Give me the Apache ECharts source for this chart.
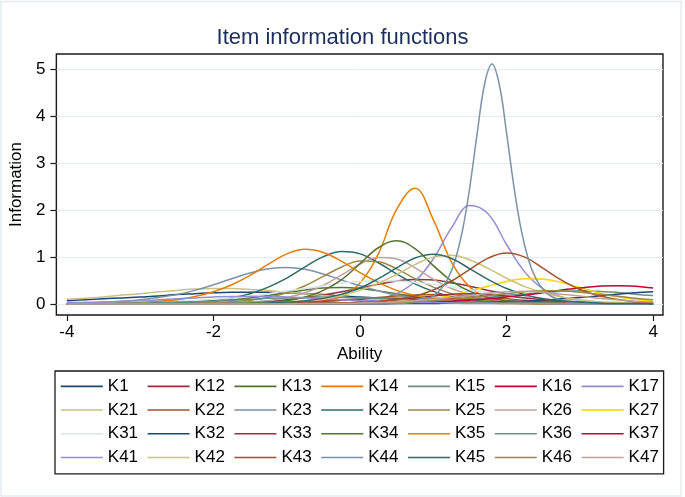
<!DOCTYPE html>
<html><head><meta charset="utf-8">
<script src="https://cdn.jsdelivr.net/npm/echarts@6/dist/echarts.min.js"></script>
<style>html,body{margin:0;padding:0;background:#fff}#c{width:685px;height:497px}</style>
</head><body><div id="c"></div>
<script>
// ---- data ----
const ability = [-4,-3.75,-3.5,-3.25,-3,-2.75,-2.5,-2.25,-2,-1.75,-1.5,-1.25,-1,-0.75,-0.5,-0.25,0,0.25,0.5,0.75,1,1.25,1.5,1.75,2,2.25,2.5,2.75,3,3.25,3.5,3.75,4];
const abilityK44 = [-4,-3,-2,-1,0,0.25,0.5,0.7,0.9,1.0,1.1,1.2,1.3,1.4,1.5,1.6,1.7,1.8,1.9,2.0,2.1,2.2,2.3,2.4,2.5,2.6,2.8,3.0,3.25,3.5,4];

const K1  = [0.07,0.09,0.11,0.13,0.15,0.17,0.20,0.22,0.24,0.25,0.25,0.25,0.24,0.22,0.20,0.17,0.15,0.13,0.11,0.09,0.07,0.06,0.05,0.04,0.03,0.02,0.02,0.01,0.01,0.01,0.01,0.01,0.00];
const K12 = [0,0,0,0,0,0.01,0.01,0.01,0.02,0.03,0.04,0.06,0.09,0.14,0.19,0.26,0.34,0.42,0.49,0.52,0.51,0.45,0.38,0.29,0.22,0.16,0.11,0.07,0.05,0.03,0.02,0.02,0.01];
const K13 = [0,0,0,0.01,0.01,0.02,0.02,0.04,0.06,0.09,0.13,0.18,0.24,0.30,0.34,0.35,0.33,0.28,0.22,0.16,0.11,0.07,0.05,0.03,0.02,0.01,0.01,0.01,0,0,0,0,0];
const K14 = [0,0,0,0,0,0,0,0,0,0,0,0,0.01,0.02,0.06,0.17,0.45,1.07,2.02,2.47,1.80,0.89,0.36,0.13,0.05,0.02,0.01,0,0,0,0,0,0];
const K15 = [0,0,0,0,0,0,0,0,0,0,0,0,0,0.01,0.01,0.01,0.02,0.02,0.03,0.04,0.06,0.08,0.11,0.14,0.18,0.21,0.25,0.27,0.28,0.27,0.25,0.21,0.18];
const K16 = [0,0,0,0,0,0,0.01,0.01,0.01,0.02,0.02,0.03,0.04,0.05,0.06,0.08,0.09,0.11,0.12,0.12,0.12,0.11,0.10,0.08,0.07,0.05,0.04,0.03,0.02,0.02,0.01,0.01,0.01];
const K17 = [0,0,0,0,0,0,0,0,0,0,0,0,0,0,0.01,0.02,0.04,0.10,0.22,0.48,0.96,1.63,2.10,1.92,1.27,0.68,0.32,0.15,0.06,0.03,0.01,0,0];
const K21 = [0.10,0.12,0.15,0.19,0.22,0.26,0.29,0.32,0.33,0.33,0.31,0.29,0.25,0.22,0.18,0.15,0.12,0.09,0.07,0.05,0.04,0.03,0.02,0.02,0.01,0.01,0.01,0.01,0,0,0,0,0];
const K22 = [0,0,0,0,0,0,0,0,0.01,0.01,0.01,0.02,0.03,0.04,0.06,0.08,0.11,0.14,0.17,0.19,0.20,0.19,0.17,0.14,0.11,0.08,0.06,0.04,0.03,0.02,0.01,0.01,0.01];
const K23 = [0.02,0.03,0.04,0.06,0.09,0.14,0.20,0.29,0.41,0.54,0.66,0.75,0.78,0.74,0.64,0.51,0.39,0.28,0.19,0.13,0.09,0.06,0.04,0.02,0.02,0.01,0.01,0,0,0,0,0,0];
const K24 = [0,0,0,0.01,0.01,0.02,0.03,0.05,0.08,0.13,0.22,0.36,0.55,0.79,1.01,1.12,1.07,0.88,0.64,0.43,0.27,0.16,0.10,0.06,0.03,0.02,0.01,0.01,0,0,0,0,0];
const K25 = [0,0,0,0,0,0,0.01,0.01,0.03,0.05,0.08,0.14,0.24,0.39,0.59,0.79,0.92,0.90,0.75,0.54,0.36,0.22,0.13,0.07,0.04,0.02,0.01,0.01,0,0,0,0,0];
const K26 = [0,0,0,0,0,0,0,0.01,0.01,0.02,0.04,0.07,0.14,0.24,0.40,0.62,0.85,0.99,0.96,0.77,0.53,0.33,0.20,0.11,0.06,0.03,0.02,0.01,0,0,0,0,0];
const K27 = [0,0,0,0,0,0,0,0,0,0,0,0,0,0,0.01,0.01,0.02,0.03,0.04,0.07,0.12,0.18,0.28,0.38,0.48,0.54,0.53,0.46,0.35,0.24,0.16,0.10,0.06];
const K31 = [0.01,0.01,0.02,0.02,0.03,0.04,0.06,0.08,0.10,0.13,0.17,0.22,0.28,0.33,0.39,0.45,0.48,0.50,0.49,0.46,0.42,0.36,0.30,0.24,0.19,0.15,0.11,0.09,0.06,0.05,0.04,0.03,0.02];
const K32 = [0,0,0,0,0,0,0,0,0,0,0,0,0,0,0,0,0,0,0.01,0.01,0.01,0.02,0.02,0.03,0.05,0.06,0.08,0.11,0.14,0.17,0.21,0.24,0.26];
const K33 = [0,0,0,0,0,0,0,0,0,0,0,0,0.01,0.01,0.02,0.02,0.04,0.06,0.09,0.13,0.17,0.21,0.22,0.21,0.17,0.13,0.09,0.06,0.04,0.02,0.02,0.01,0.01];
const K34 = [0,0,0,0,0,0,0,0,0,0.01,0.02,0.04,0.07,0.15,0.29,0.52,0.86,1.20,1.35,1.18,0.82,0.49,0.27,0.14,0.07,0.04,0.02,0.01,0,0,0,0,0];
const K35 = [0,0.01,0.01,0.02,0.03,0.06,0.09,0.16,0.26,0.41,0.61,0.85,1.07,1.17,1.10,0.91,0.67,0.46,0.29,0.18,0.11,0.06,0.04,0.02,0.01,0.01,0,0,0,0,0,0,0];
const K36 = [0.01,0.01,0.01,0.02,0.02,0.03,0.04,0.05,0.06,0.08,0.10,0.12,0.13,0.14,0.15,0.14,0.13,0.12,0.10,0.08,0.06,0.05,0.04,0.03,0.02,0.02,0.01,0.01,0.01,0.01,0,0,0];
const K37 = [0,0,0,0,0,0,0,0,0,0,0,0,0,0,0.01,0.01,0.01,0.01,0.02,0.03,0.04,0.06,0.08,0.11,0.15,0.19,0.24,0.30,0.34,0.38,0.39,0.38,0.34];
const K41 = [0.03,0.03,0.04,0.06,0.07,0.09,0.11,0.13,0.15,0.16,0.16,0.16,0.15,0.13,0.11,0.09,0.07,0.06,0.04,0.03,0.03,0.02,0.01,0.01,0.01,0.01,0.01,0,0,0,0,0,0];
const K42 = [0,0,0,0,0,0,0,0,0,0.01,0.01,0.02,0.04,0.07,0.11,0.18,0.29,0.44,0.63,0.84,1.00,1.04,0.94,0.76,0.55,0.37,0.24,0.15,0.09,0.05,0.03,0.02,0.01];
const K43 = [0,0,0,0,0,0,0,0,0,0,0,0,0,0,0.01,0.02,0.03,0.05,0.10,0.17,0.30,0.49,0.74,0.98,1.09,1.00,0.76,0.51,0.31,0.18,0.10,0.05,0.03];
const K44 = [0,0,0,0,0,0,0.01,0.03,0.09,0.17,0.31,0.54,0.94,1.58,2.51,3.65,4.69,5.12,4.69,3.65,2.51,1.58,0.94,0.54,0.31,0.17,0.05,0.02,0,0,0];
const K45 = [0,0,0,0,0,0,0,0,0,0.01,0.01,0.02,0.04,0.07,0.12,0.21,0.34,0.54,0.77,0.98,1.06,0.97,0.75,0.52,0.33,0.20,0.11,0.07,0.04,0.02,0.01,0.01,0];
const K46 = [0,0,0,0,0,0,0,0,0,0,0,0,0,0,0.01,0.01,0.01,0.02,0.03,0.05,0.07,0.10,0.13,0.18,0.22,0.26,0.28,0.28,0.25,0.21,0.17,0.12,0.09];
const K47 = [0,0,0,0,0,0,0,0,0,0,0,0,0,0.01,0.01,0.01,0.02,0.03,0.04,0.07,0.10,0.14,0.18,0.23,0.26,0.27,0.25,0.21,0.17,0.12,0.09,0.06,0.04];

const itemNames = ['K1','K12','K13','K14','K15','K16','K17','K21','K22','K23','K24','K25','K26','K27','K31','K32','K33','K34','K35','K36','K37','K41','K42','K43','K44','K45','K46','K47'];
const itemValues = [K1,K12,K13,K14,K15,K16,K17,K21,K22,K23,K24,K25,K26,K27,K31,K32,K33,K34,K35,K36,K37,K41,K42,K43,K44,K45,K46,K47];
const itemAbility = itemNames.map(n => n === 'K44' ? abilityK44 : ability);

const xTicks = [-4,-2,0,2,4];
const yTicks = [0,1,2,3,4,5];

// ---- styles ----
const palette = ['#1a476f','#90353b','#55752f','#e37e00','#6e8e84','#c10534','#938dd2','#cac27e','#a0522d','#7b92a8','#2d6d66','#9c8847','#bfa19c','#ffd200','#d9e6eb'];
const FONT = "'Liberation Sans', Helvetica, Arial, sans-serif";
const dark = '#1a1a1a';

const series = itemNames.map((name, i) => {
  const xs = itemAbility[i], ys = itemValues[i];
  const color = palette[i % palette.length];
  return {
    name, type: 'line',
    data: xs.map((x, j) => [x, ys[j]]),
    smooth: 0.4,
    symbol: 'none', showSymbol: false, clip: false,
    lineStyle: { width: 1.5, color }, itemStyle: { color },
    emphasis: { disabled: true }, silent: true, animation: false
  };
});

const chart = echarts.init(document.getElementById('c'), null, { renderer: 'canvas' });
chart.setOption({
  backgroundColor: '#fff',
  animation: false,
  textStyle: { fontFamily: FONT },
  title: {
    text: 'Item information functions', left: 'center', top: 22,
    textStyle: { fontSize: 22, fontWeight: 'normal', color: '#1c2f5c', fontFamily: FONT }
  },
  graphic: [{
    type: 'rect', silent: true, z: -1,
    shape: { x: 1, y: 1.5, width: 680, height: 494.5 },
    style: { fill: 'none', stroke: '#e3ecef', lineWidth: 1.5 }
  }],
  grid: {
    left: 49.3, right: 22, top: 54, bottom: 182,
    show: true, borderColor: dark, borderWidth: 1.4, backgroundColor: '#fff'
  },
  xAxis: {
    type: 'value', min: -4.144, max: 4.135,
    axisLine: { show: false, onZero: false },
    axisTick: { show: true, length: 6, customValues: xTicks, lineStyle: { color: dark, width: 1.2 } },
    axisLabel: { customValues: xTicks, margin: 9, fontSize: 17, color: '#000', fontFamily: FONT },
    splitLine: { show: false },
    name: 'Ability', nameLocation: 'middle', nameGap: 27,
    nameTextStyle: { fontSize: 17, color: '#000', fontFamily: FONT }
  },
  yAxis: {
    type: 'value', min: -0.235, max: 5.335,
    axisLine: { show: false, onZero: false },
    axisTick: { show: true, length: 6, customValues: yTicks, lineStyle: { color: dark, width: 1.2 } },
    axisLabel: { customValues: yTicks, margin: 11, fontSize: 17, color: '#000', fontFamily: FONT },
    splitLine: { show: true, lineStyle: { color: '#e3ecef', width: 1 } },
    name: 'Information', nameLocation: 'middle', nameGap: 28, nameRotate: 90,
    nameTextStyle: { fontSize: 17, color: '#000', fontFamily: FONT }
  },
  legend: {
    data: itemNames, orient: 'horizontal', left: 55, top: 371, width: 612,
    itemWidth: 42, itemHeight: 12, itemGap: 5,
    padding: [6, 1, 7, 5],
    backgroundColor: '#fff', borderColor: dark, borderWidth: 1.3, borderRadius: 0,
    selectedMode: false,
    itemStyle: { opacity: 0 },
    lineStyle: { width: 1.6 },
    textStyle: { fontSize: 17, color: '#000', width: 34, lineHeight: 18.7, fontFamily: FONT }
  },
  series
});
</script>
</body></html>
